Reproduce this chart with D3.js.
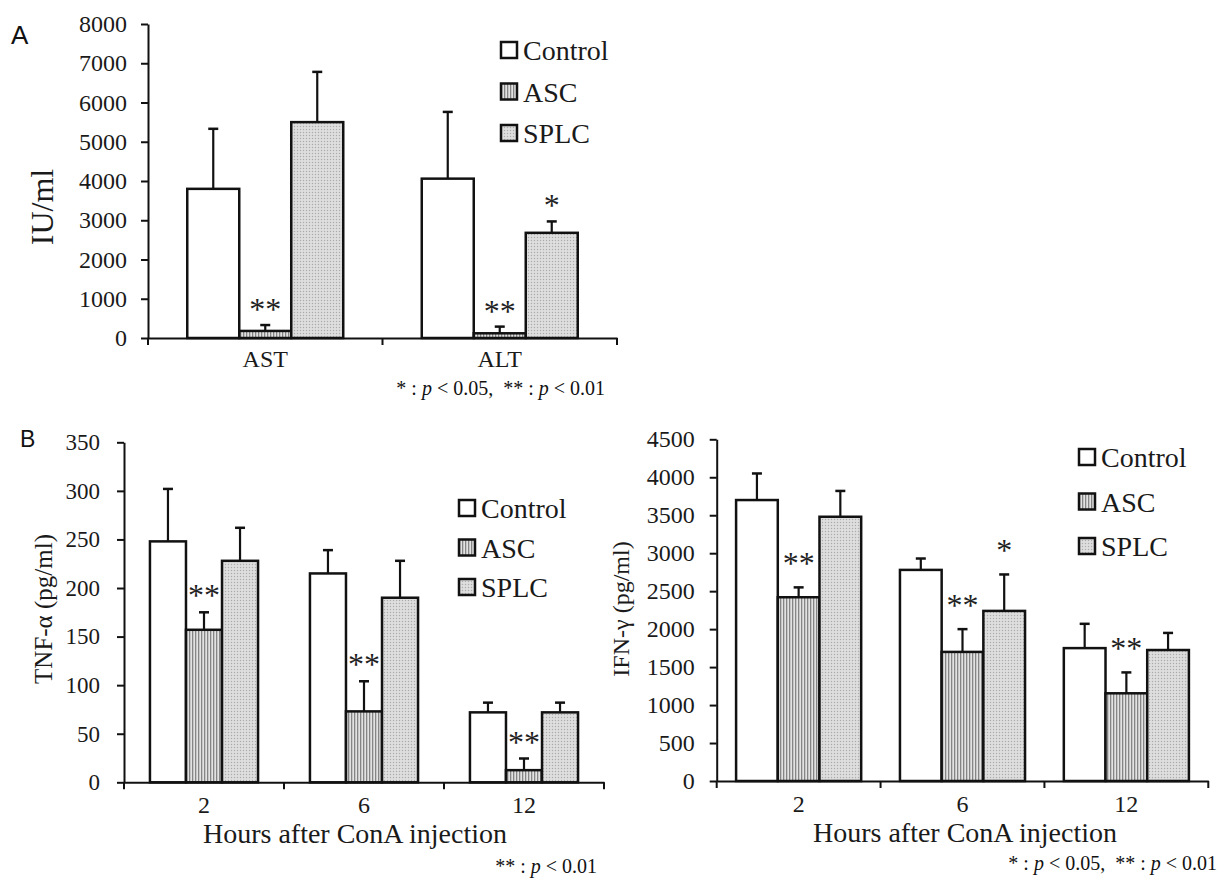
<!DOCTYPE html>
<html>
<head>
<meta charset="utf-8">
<script src="https://cdn.jsdelivr.net/npm/d3@7"></script>
<style>
  body { margin: 0; background: #fff; }
  text { white-space: pre; }
</style>
</head>
<body>
<script>
// ---- data ----
const seriesNames = ["Control", "ASC", "SPLC"];

// Panel A: serum AST / ALT (IU/ml)
const enzymeCats = ["AST", "ALT"];
const enzymeControl = [3800, 4060];
const enzymeControlSD = [1530, 1700];
const enzymeASC = [180, 120];
const enzymeASCSD = [150, 170];
const enzymeSPLC = [5500, 2680];
const enzymeSPLCSD = [1280, 290];
const enzymeASCStars = ["**", "**"];
const enzymeSPLCStars = ["", "*"];
const enzymeTicks = [0, 1000, 2000, 3000, 4000, 5000, 6000, 7000, 8000];

// Panel B: cytokines by hours after ConA injection
const hourCats = ["2", "6", "12"];

const tnfControl = [248, 215, 72];
const tnfControlSD = [54, 24, 10];
const tnfASC = [157, 73, 12.5];
const tnfASCSD = [18, 31, 12];
const tnfSPLC = [228, 190, 72];
const tnfSPLCSD = [34, 38, 10];
const tnfASCStars = ["**", "**", "**"];
const tnfSPLCStars = ["", "", ""];
const tnfTicks = [0, 50, 100, 150, 200, 250, 300, 350];

const ifnControl = [3700, 2780, 1750];
const ifnControlSD = [350, 150, 320];
const ifnASC = [2420, 1700, 1155];
const ifnASCSD = [130, 300, 275];
const ifnSPLC = [3480, 2240, 1725];
const ifnSPLCSD = [340, 480, 225];
const ifnASCStars = ["**", "**", "**"];
const ifnSPLCStars = ["", "*", ""];
const ifnTicks = [0, 500, 1000, 1500, 2000, 2500, 3000, 3500, 4000, 4500];

// ---- drawing ----
const serif = "'Liberation Serif', 'Times New Roman', serif";
const sans = "'Liberation Sans', Arial, sans-serif";
const ink = "#111";

const svg = d3.select("body").append("svg")
    .attr("width", 1220)
    .attr("height", 880);

// fill patterns
const defs = svg.append("defs");
const stripes = defs.append("pattern")
    .attr("id", "pat-asc")
    .attr("patternUnits", "userSpaceOnUse")
    .attr("width", 3).attr("height", 3);
stripes.append("rect").attr("width", 3).attr("height", 3).attr("fill", "#e2e2e2");
stripes.append("rect").attr("width", 1.3).attr("height", 3).attr("fill", "#858585");

const dots = defs.append("pattern")
    .attr("id", "pat-splc")
    .attr("patternUnits", "userSpaceOnUse")
    .attr("width", 3).attr("height", 3);
dots.append("rect").attr("width", 3).attr("height", 3).attr("fill", "#d8d8d8");
dots.append("rect").attr("width", 1).attr("height", 1).attr("fill", "#ababab");
dots.append("rect").attr("x", 1.5).attr("y", 1.5).attr("width", 1).attr("height", 1).attr("fill", "#f2f2f2");

const fills = { Control: "#fff", ASC: "url(#pat-asc)", SPLC: "url(#pat-splc)" };

function footnote(g, x, y, parts) {
    const t = g.append("text")
        .attr("x", x).attr("y", y)
        .attr("text-anchor", "end")
        .attr("font-family", serif)
        .attr("font-size", 20)
        .attr("fill", ink);
    parts.forEach(([s, it]) => {
        t.append("tspan").attr("font-style", it ? "italic" : "normal").text(s);
    });
}

function drawPanel(p) {
    const g = svg.append("g");

    const x = d3.scaleBand().domain(p.cats).range([p.x0, p.x1]).padding(0);
    const xs = d3.scaleBand().domain(seriesNames)
        .range([0, x.bandwidth()])
        .paddingInner(0)
        .paddingOuter(p.pad);
    const y = d3.scaleLinear().domain([0, p.ymax]).range([p.yBottom, p.yTop]);

    // y axis
    g.append("g")
        .attr("transform", `translate(${p.x0},0)`)
        .call(d3.axisLeft(y)
            .tickValues(p.ticks)
            .tickFormat(d3.format("d"))
            .tickSize(7)
            .tickSizeOuter(0)
            .tickPadding(p.tickPad))
        .call(a => {
            a.select(".domain").attr("stroke", ink).attr("stroke-width", 2);
            a.selectAll(".tick line").attr("stroke", ink).attr("stroke-width", 2);
            a.selectAll(".tick text")
                .attr("font-family", serif)
                .attr("font-size", p.tickFont)
                .attr("fill", "#1a1a1a");
        });

    // bars + error bars
    p.series.forEach(s => {
        const bars = g.append("g");
        p.cats.forEach((c, i) => {
            const bx = x(c) + xs(s.name);
            const bw = xs.bandwidth();
            const cx = bx + bw / 2;
            bars.append("rect")
                .attr("x", bx)
                .attr("y", y(s.values[i]))
                .attr("width", bw)
                .attr("height", y(0) - y(s.values[i]))
                .attr("fill", fills[s.name])
                .attr("stroke", ink)
                .attr("stroke-width", 2.5);
            const top = y(s.values[i] + s.sd[i]);
            bars.append("line")
                .attr("x1", cx).attr("x2", cx)
                .attr("y1", y(s.values[i])).attr("y2", top)
                .attr("stroke", ink).attr("stroke-width", 2.2);
            bars.append("line")
                .attr("x1", cx - 5).attr("x2", cx + 5)
                .attr("y1", top).attr("y2", top)
                .attr("stroke", ink).attr("stroke-width", 2.5);
            if (s.stars && s.stars[i]) {
                bars.append("text")
                    .attr("x", cx)
                    .attr("y", top - p.starGap + 16)
                    .attr("text-anchor", "middle")
                    .attr("font-family", serif)
                    .attr("font-size", 32)
                    .attr("fill", "#222")
                    .text(s.stars[i]);
            }
        });
    });

    // x axis
    g.append("g")
        .attr("transform", `translate(0,${p.yBottom})`)
        .call(d3.axisBottom(x).tickSize(0).tickSizeOuter(0).tickPadding(p.xPad))
        .call(a => {
            a.select(".domain").attr("stroke", ink).attr("stroke-width", 2);
            a.selectAll(".tick text")
                .attr("font-family", serif)
                .attr("font-size", 24)
                .attr("fill", "#1a1a1a");
        });
    const bounds = p.cats.map(c => x(c)).concat([x.range()[1]]);
    g.selectAll(".bound")
        .data(bounds)
        .enter()
        .append("line")
        .attr("x1", d => d).attr("x2", d => d)
        .attr("y1", p.yBottom).attr("y2", p.yBottom + 7)
        .attr("stroke", ink).attr("stroke-width", 2);

    // y label
    g.append("text")
        .attr("transform", `translate(${p.yLabelX},${p.yLabelY}) rotate(-90)`)
        .attr("text-anchor", "middle")
        .attr("font-family", serif)
        .attr("font-size", p.yLabelSize)
        .attr("fill", "#1a1a1a")
        .text(p.yLabel);

    // x label
    if (p.xLabel) {
        g.append("text")
            .attr("x", p.xLabelX).attr("y", p.xLabelY)
            .attr("text-anchor", "middle")
            .attr("font-family", serif)
            .attr("font-size", 28)
            .attr("fill", "#1a1a1a")
            .text(p.xLabel);
    }

    // legend
    const leg = g.selectAll(".leg")
        .data(seriesNames)
        .enter()
        .append("g")
        .attr("transform", (d, i) => `translate(${p.legX},${p.legY + i * p.legStep})`);
    leg.append("rect")
        .attr("x", 0).attr("y", -8)
        .attr("width", 16).attr("height", 16)
        .attr("fill", d => fills[d])
        .attr("stroke", ink)
        .attr("stroke-width", 2.5);
    leg.append("text")
        .attr("x", 22).attr("y", 10)
        .attr("font-family", serif)
        .attr("font-size", 28)
        .attr("fill", "#1a1a1a")
        .text(d => d);

    return g;
}

// Panel A
const gA = drawPanel({
    cats: enzymeCats,
    series: [
        { name: "Control", values: enzymeControl, sd: enzymeControlSD },
        { name: "ASC", values: enzymeASC, sd: enzymeASCSD, stars: enzymeASCStars },
        { name: "SPLC", values: enzymeSPLC, sd: enzymeSPLCSD, stars: enzymeSPLCStars }
    ],
    ticks: enzymeTicks, ymax: 8000,
    x0: 148, x1: 617, yBottom: 338, yTop: 24, pad: 0.755,
    tickPad: 14, tickFont: 24, xPad: 12, starGap: 21,
    yLabel: "IU/ml", yLabelX: 53, yLabelY: 207, yLabelSize: 32,
    legX: 501, legY: 50, legStep: 41.5
});
footnote(gA, 605, 395, [["* : ", false], ["p", true], [" < 0.05,  ** : ", false], ["p", true], [" < 0.01", false]]);

// Panel B, TNF-alpha
const gB1 = drawPanel({
    cats: hourCats,
    series: [
        { name: "Control", values: tnfControl, sd: tnfControlSD },
        { name: "ASC", values: tnfASC, sd: tnfASCSD, stars: tnfASCStars },
        { name: "SPLC", values: tnfSPLC, sd: tnfSPLCSD, stars: tnfSPLCStars }
    ],
    ticks: tnfTicks, ymax: 350,
    x0: 124, x1: 604, yBottom: 782.3, yTop: 442.3, pad: 0.72,
    tickPad: 17, tickFont: 23, xPad: 14, starGap: 22,
    yLabel: "TNF-α (pg/ml)", yLabelX: 52, yLabelY: 609, yLabelSize: 25,
    xLabel: "Hours after ConA injection", xLabelX: 355, xLabelY: 843,
    legX: 459, legY: 508, legStep: 39.5
});
footnote(gB1, 597, 873, [["** : ", false], ["p", true], [" < 0.01", false]]);

// Panel B, IFN-gamma
const gB2 = drawPanel({
    cats: hourCats,
    series: [
        { name: "Control", values: ifnControl, sd: ifnControlSD },
        { name: "ASC", values: ifnASC, sd: ifnASCSD, stars: ifnASCStars },
        { name: "SPLC", values: ifnSPLC, sd: ifnSPLCSD, stars: ifnSPLCStars }
    ],
    ticks: ifnTicks, ymax: 4500,
    x0: 716.7, x1: 1208.3, yBottom: 781, yTop: 439.3, pad: 0.465,
    tickPad: 15, tickFont: 24, xPad: 14, starGap: 29,
    yLabel: "IFN-γ (pg/ml)", yLabelX: 629, yLabelY: 609, yLabelSize: 24,
    xLabel: "Hours after ConA injection", xLabelX: 965, xLabelY: 842,
    legX: 1079, legY: 457, legStep: 44.5
});
footnote(gB2, 1217, 870, [["* : ", false], ["p", true], [" < 0.05,  ** : ", false], ["p", true], [" < 0.01", false]]);

// panel letters
svg.append("text").attr("x", 11).attr("y", 44)
    .attr("font-family", sans).attr("font-size", 26).attr("fill", "#111").text("A");
svg.append("text").attr("x", 20).attr("y", 447)
    .attr("font-family", sans).attr("font-size", 23).attr("fill", "#111").text("B");
</script>
</body>
</html>
